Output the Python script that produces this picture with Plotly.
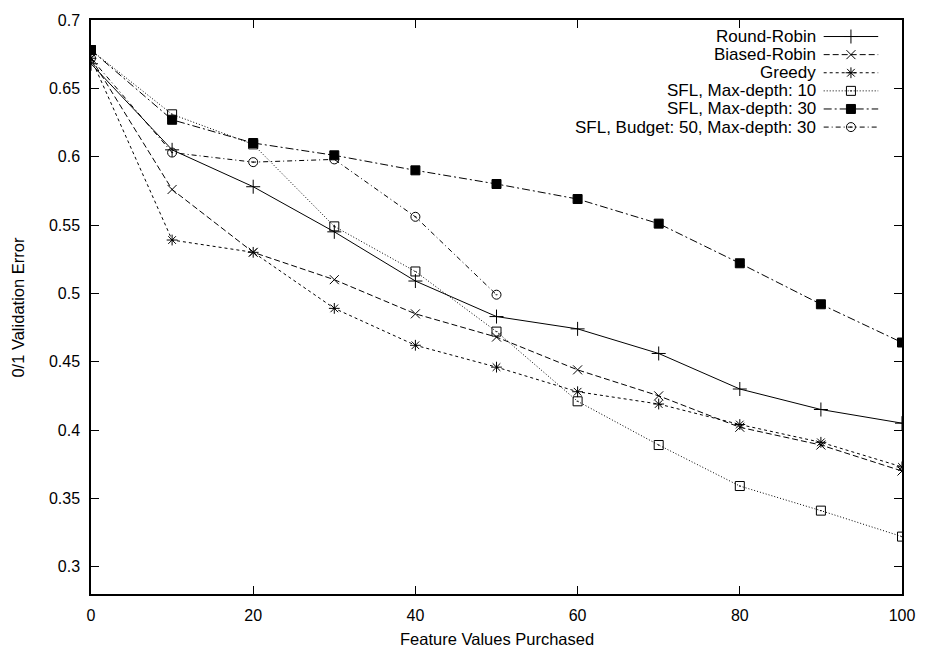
import plotly.graph_objects as go

# Feature values purchased (x) and 0/1 validation error for each strategy
budget = [0, 10, 20, 30, 40, 50, 60, 70, 80, 90, 100]
budget_short = [0, 10, 20, 30, 40, 50]

round_robin = [0.668, 0.605, 0.578, 0.545, 0.509, 0.483, 0.474, 0.456, 0.430, 0.415, 0.405]
biased_robin = [0.672, 0.576, 0.530, 0.510, 0.485, 0.468, 0.444, 0.425, 0.402, 0.389, 0.370]
greedy = [0.672, 0.539, 0.530, 0.489, 0.462, 0.446, 0.428, 0.419, 0.404, 0.391, 0.373]
sfl_depth10 = [0.678, 0.631, 0.609, 0.549, 0.516, 0.472, 0.421, 0.389, 0.359, 0.341, 0.322]
sfl_depth30 = [0.678, 0.627, 0.610, 0.601, 0.590, 0.580, 0.569, 0.551, 0.522, 0.492, 0.464]
sfl_budget50 = [0.672, 0.603, 0.596, 0.598, 0.556, 0.499]

x_ticks = [0, 20, 40, 60, 80, 100]
y_ticks = [0.3, 0.35, 0.4, 0.45, 0.5, 0.55, 0.6, 0.65, 0.7]
y_tick_labels = ["0.3", "0.35", "0.4", "0.45", "0.5", "0.55", "0.6", "0.65", "0.7"]

FONT = "Liberation Sans, Arial, Helvetica, sans-serif"

series = [
    ("Round-Robin", budget, round_robin, "solid", "cross-thin-open", 10),
    ("Biased-Robin", budget, biased_robin, "6px,3px", "x-thin-open", 9),
    ("Greedy", budget, greedy, "3px,3px", "asterisk-open", 9),
    ("SFL, Max-depth: 10", budget, sfl_depth10, "1px,2px", "square-open-dot", 9),
    ("SFL, Max-depth: 30", budget, sfl_depth30, "8px,3px,2px,3px", "square", 9),
    ("SFL, Budget: 50, Max-depth: 30", budget_short, sfl_budget50, "5px,3px,1px,3px", "circle-open-dot", 9),
]

fig = go.Figure()

for name, xs, ys, dash, symbol, size in series:
    fig.add_trace(go.Scatter(
        x=xs, y=ys, name=name, mode="lines+markers",
        line=dict(color="black", width=1, dash=dash),
        marker=dict(symbol=symbol, size=size, color="black",
                    line=dict(color="black", width=1)),
        showlegend=False,
    ))

# Key drawn on a pixel-scaled overlay axis: label on the left, sample on the right
key_top = 30.7
key_step = 18.3
for i, (name, xs, ys, dash, symbol, size) in enumerate(series):
    row = key_top + i * key_step
    fig.add_trace(go.Scatter(
        x=[830, 885], y=[row, row], mode="lines", xaxis="x2", yaxis="y2",
        line=dict(color="black", width=1, dash=dash),
        showlegend=False, hoverinfo="skip",
    ))
    fig.add_trace(go.Scatter(
        x=[857.5], y=[row], mode="markers", xaxis="x2", yaxis="y2",
        marker=dict(symbol=symbol, size=size, color="black",
                    line=dict(color="black", width=1)),
        showlegend=False, hoverinfo="skip",
    ))
    fig.add_annotation(
        x=823, y=row, xref="x2", yref="y2", text=name, showarrow=False,
        xanchor="right", yanchor="middle", borderpad=0,
        font=dict(family=FONT, size=17, color="black"),
    )

axis_common = dict(
    showline=True, linecolor="black", linewidth=1.5, mirror="allticks",
    ticks="inside", ticklen=8, tickwidth=1, tickcolor="black",
    showgrid=False, zeroline=False,
    tickfont=dict(family=FONT, size=16, color="black"),
)

fig.update_layout(
    width=927, height=654,
    margin=dict(l=91, r=18, t=14, b=60),
    paper_bgcolor="white", plot_bgcolor="white",
    font=dict(family=FONT, size=16, color="black"),
    xaxis=dict(range=[0, 100], tickvals=x_ticks, ticklabelstandoff=6, **axis_common),
    yaxis=dict(range=[0.28, 0.7], tickvals=y_ticks, ticktext=y_tick_labels,
               ticklabelstandoff=6, **axis_common),
    xaxis2=dict(overlaying="x", range=[91, 909], visible=False),
    yaxis2=dict(overlaying="y", range=[594, 14], visible=False),
)

fig.add_annotation(
    x=0.5, y=-0.079, xref="paper", yref="paper", text="Feature Values Purchased",
    showarrow=False, xanchor="center", yanchor="middle",
    font=dict(family=FONT, size=16.5, color="black"),
)
fig.add_annotation(
    x=-0.0905, y=0.5, xref="paper", yref="paper", text="0/1 Validation Error",
    showarrow=False, xanchor="center", yanchor="middle", textangle=-90,
    font=dict(family=FONT, size=16.5, color="black"),
)

fig.write_html("out.html")
